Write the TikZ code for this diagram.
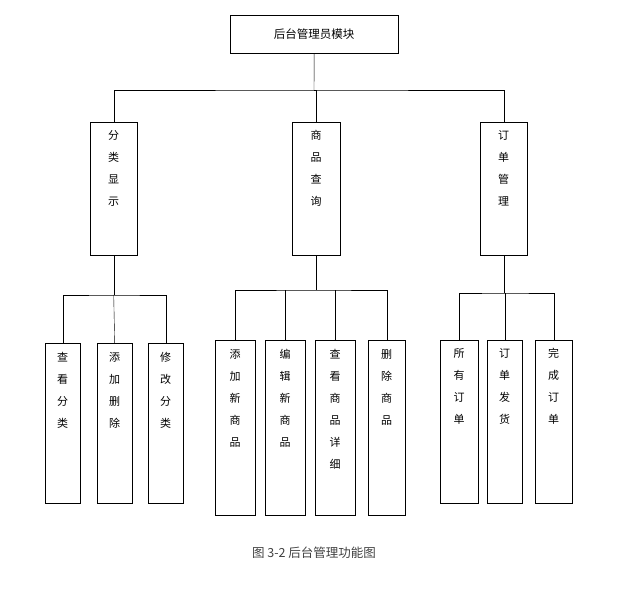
\documentclass[tikz,border=0pt]{standalone}
\usepackage{fontspec}
\setmainfont{Noto Sans CJK SC}
\usetikzlibrary{positioning}
\newcommand{\colbox}[2]{\parbox[t][#1][t]{14pt}{\centering #2}}
\begin{document}
\begin{tikzpicture}[x=1pt,y=-1pt,font=\fontsize{11}{22}\selectfont]
\tikzset{every box/.style={draw=black,anchor=north west,inner sep=0pt,align=center}}
\useasboundingbox (0,0) rectangle (635,591);

\node[every box,minimum width=168,minimum height=38,font=\fontsize{11.5}{14}\selectfont] (top) at (230,15) {后台管理员模块};
% second level
\node[every box,minimum width=47,minimum height=133] (fl) at (90,122) {\colbox{125pt}{\vspace{4pt}分\\类\\显\\示}};
\node[every box,minimum width=48,minimum height=133] (sp) at (292,122) {\colbox{125pt}{\vspace{4pt}商\\品\\查\\询}};
\node[every box,minimum width=47,minimum height=133] (dd) at (480,122) {\colbox{125pt}{\vspace{4pt}订\\单\\管\\理}};
% leaves
\node[every box,minimum width=35,minimum height=160] (ckfl) at (45,343) {\colbox{150pt}{\vspace{4pt}查\\看\\分\\类}};
\node[every box,minimum width=35,minimum height=160] (tjsc) at (97,343) {\colbox{150pt}{\vspace{4pt}添\\加\\删\\除}};
\node[every box,minimum width=35,minimum height=160] (xgfl) at (148,343) {\colbox{150pt}{\vspace{4pt}修\\改\\分\\类}};
\node[every box,minimum width=40,minimum height=175] (tjsp) at (215,340) {\colbox{165pt}{\vspace{4pt}添\\加\\新\\商\\品}};
\node[every box,minimum width=40,minimum height=175] (bjsp) at (265,340) {\colbox{165pt}{\vspace{4pt}编\\辑\\新\\商\\品}};
\node[every box,minimum width=40,minimum height=175] (cksp) at (315,340) {\colbox{165pt}{\vspace{4pt}查\\看\\商\\品\\详\\细}};
\node[every box,minimum width=37,minimum height=175] (scsp) at (368,340) {\colbox{165pt}{\vspace{4pt}删\\除\\商\\品}};
\node[every box,minimum width=38,minimum height=163] (sydd) at (440,340) {\colbox{155pt}{\vspace{4pt}所\\有\\订\\单}};
\node[every box,minimum width=35,minimum height=163] (ddfh) at (487,340) {\colbox{155pt}{\vspace{4pt}订\\单\\发\\货}};
\node[every box,minimum width=37,minimum height=163] (wcdd) at (535,340) {\colbox{155pt}{\vspace{4pt}完\\成\\订\\单}};

% connectors
\draw (top.south) -- (314,90) coordinate (b0);
\draw (fl.north) |- (b0) -| (dd.north);
\draw (b0) -| (sp.north);
\draw (fl.south) -- (fl.south |- 0,295) coordinate (b1);
\draw (ckfl.north) |- (b1) -| (xgfl.north);
\draw (b1) -- (tjsc.north);
\draw (sp.south) -- (sp.south |- 0,290) coordinate (b2);
\draw (tjsp.north) |- (b2) -| (scsp.north);
\draw (b2 -| bjsp.north) -- (bjsp.north);
\draw (b2 -| cksp.north) -- (cksp.north);
\draw (dd.south) -- (dd.south |- 0,293) coordinate (b3);
\draw (sydd.north) |- (b3) -| (wcdd.north);
\draw (b3 -| ddfh.north) -- (ddfh.north);

\node[font=\fontsize{12.5}{14}\selectfont,text=black!75] (cap) at (314,553) {图 3-2 后台管理功能图};
\end{tikzpicture}
\end{document}
